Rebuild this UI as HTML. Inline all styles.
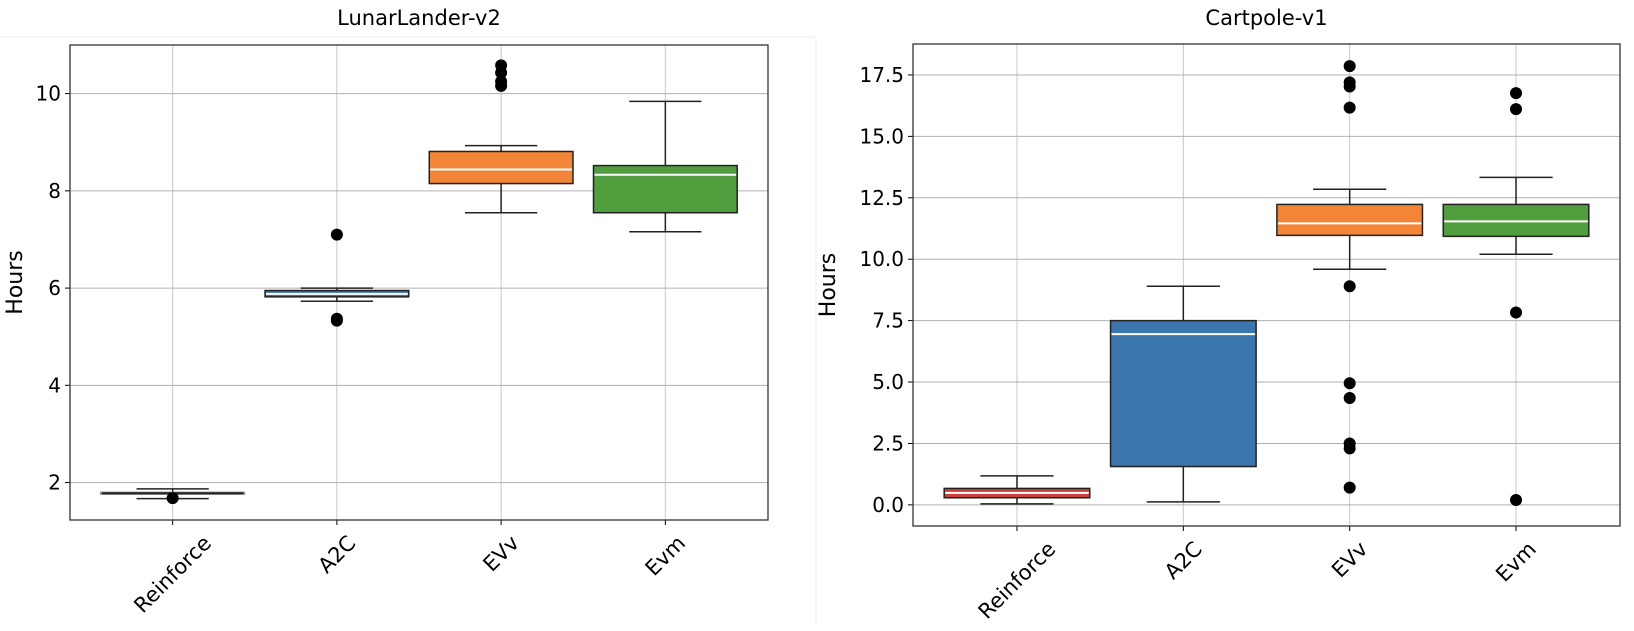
<!DOCTYPE html>
<html><head><meta charset="utf-8"><style>
body{margin:0;background:#fff;}
svg text{font-family:"DejaVu Sans","Liberation Sans",sans-serif;fill:#000;}
</style></head><body>
<svg id="chart" width="1634" height="626" xmlns="http://www.w3.org/2000/svg">
<line x1="0" y1="37" x2="815" y2="37" stroke="#eee"/>
<line x1="816" y1="37" x2="816" y2="626" stroke="#eee"/>
</svg>
<script>
const categories=["Reinforce","A2C","EVv","Evm"];
const colorsL=["#e6e6e6","#3a75ae","#f28536","#519e3e"];
const colorsR=["#c8413a","#3a75ae","#f28536","#519e3e"];
// [whiskerLow, q1, median, q3, whiskerHigh]
const lunarStats=[[1.67,1.76,1.78,1.80,1.87],[5.73,5.82,5.88,5.95,6.0],[7.55,8.15,8.44,8.81,8.93],[7.16,7.55,8.33,8.52,9.84]];
const lunarOutliers=[[1.68],[7.1,5.37,5.33],[10.58,10.43,10.25,10.16],[]];
const cartStats=[[0.04,0.29,0.49,0.67,1.18],[0.12,1.56,6.95,7.5,8.9],[9.59,10.97,11.46,12.23,12.85],[10.2,10.93,11.54,12.23,13.33]];
const cartOutliers=[[],[],[17.86,17.2,17.03,16.17,8.9,4.95,4.35,2.5,2.3,0.7],[16.76,16.11,7.83,0.2]];
const lunarTicks=[2,4,6,8,10];
const cartTicks=[0,2.5,5,7.5,10,12.5,15,17.5];
const NS="http://www.w3.org/2000/svg";
const svg=document.getElementById('chart');
function mk(tag,attrs,parent){const e=document.createElementNS(NS,tag);for(const k in attrs)e.setAttribute(k,attrs[k]);(parent||svg).appendChild(e);return e;}
function panel(o){
  const g=mk('g',{});
  
  
  const L=o.left,R=o.right,T=o.top,B=o.bottom;
  const y=v=>B-(v-o.ymin)/(o.ymax-o.ymin)*(B-T);
  const x=i=>L+(i+1-0.375)/4.25*(R-L);
  const unit=(R-L)/4.25;
  o.ticks.forEach(t=>{
    const gl=mk('line',{x1:L,x2:R,y1:y(t),y2:y(t),stroke:'#b0b0b0','stroke-width':1},g);
    
    
    mk('line',{x1:L-5,x2:L,y1:y(t),y2:y(t),stroke:'#000','stroke-width':1},g);
    const tx=mk('text',{x:L-9,y:y(t)+7,'text-anchor':'end','font-size':20},g);
    tx.textContent=o.fmt(t);
    
    
  });
  categories.forEach((c,i)=>{
    const gl=mk('line',{x1:x(i),x2:x(i),y1:T,y2:B,stroke:'#b0b0b0','stroke-width':1,'stroke-opacity':0.7},g);
    
    
    mk('line',{x1:x(i),x2:x(i),y1:B,y2:B+5,stroke:'#000'},g);
  });
  o.stats.forEach((s,i)=>{
    const cx=x(i),bw=unit*0.875,cw=unit*0.44;
    const bg=mk('g',{},g);
    
    
    const ec=i===0&&o.lightFirst?'#999':'#222';
    mk('line',{x1:cx,x2:cx,y1:y(s[0]),y2:y(s[1]),stroke:'#222','stroke-width':1.5},bg);
    mk('line',{x1:cx,x2:cx,y1:y(s[3]),y2:y(s[4]),stroke:'#222','stroke-width':1.5},bg);
    mk('line',{x1:cx-cw/2,x2:cx+cw/2,y1:y(s[0]),y2:y(s[0]),stroke:'#222','stroke-width':1.5},bg);
    mk('line',{x1:cx-cw/2,x2:cx+cw/2,y1:y(s[4]),y2:y(s[4]),stroke:'#222','stroke-width':1.5},bg);
    mk('rect',{x:cx-bw/2,y:y(s[3]),width:bw,height:Math.max(1,y(s[1])-y(s[3])),fill:o.colors[i],stroke:ec,'stroke-width':1.5},bg);
    const mc=i===0&&o.lightFirst?'#222':'#fff';
    mk('line',{x1:cx-bw/2+1,x2:cx+bw/2-1,y1:y(s[2]),y2:y(s[2]),stroke:mc,'stroke-width':2},bg);
    o.outliers[i].forEach(v=>{
      const p=mk('circle',{cx:cx,cy:y(v),r:6,fill:'#000'},bg);
      
      
    });
  });
  const fr=mk('rect',{x:L,y:T,width:R-L,height:B-T,fill:'none',stroke:'#333','stroke-width':1.3},g);
  
  
  const tt=mk('text',{x:(L+R)/2,y:25,'text-anchor':'middle','font-size':21},g);
  tt.textContent=o.title;
  
  
  const yl=mk('text',{x:0,y:0,'text-anchor':'middle','font-size':22,transform:`translate(${o.ylx},${(T+B)/2}) rotate(-90)`},g);
  yl.textContent='Hours';
  
  
  categories.forEach((c,i)=>{
    const t=mk('text',{x:0,y:0,'text-anchor':'middle','font-size':21},g);
    t.textContent=c;
    
    
    const len=t.getComputedTextLength()||c.length*11;
    const h=(len+21)*0.7071;
    t.setAttribute('transform',`translate(${x(i)},${B+12+h/2}) rotate(-45) translate(0,7)`);
  });
}
panel({name:'lunarlander-panel',title:'LunarLander-v2',left:70,right:768,top:45,bottom:520,ymin:1.23,ymax:11.0,ticks:lunarTicks,fmt:t=>String(t),stats:lunarStats,outliers:lunarOutliers,colors:colorsL,lightFirst:true,ylx:22});
panel({name:'cartpole-panel',title:'Cartpole-v1',left:913,right:1620,top:44,bottom:526,ymin:-0.86,ymax:18.76,ticks:cartTicks,fmt:t=>t.toFixed(1),stats:cartStats,outliers:cartOutliers,colors:colorsR,lightFirst:false,ylx:835});
</script>
</body></html>
